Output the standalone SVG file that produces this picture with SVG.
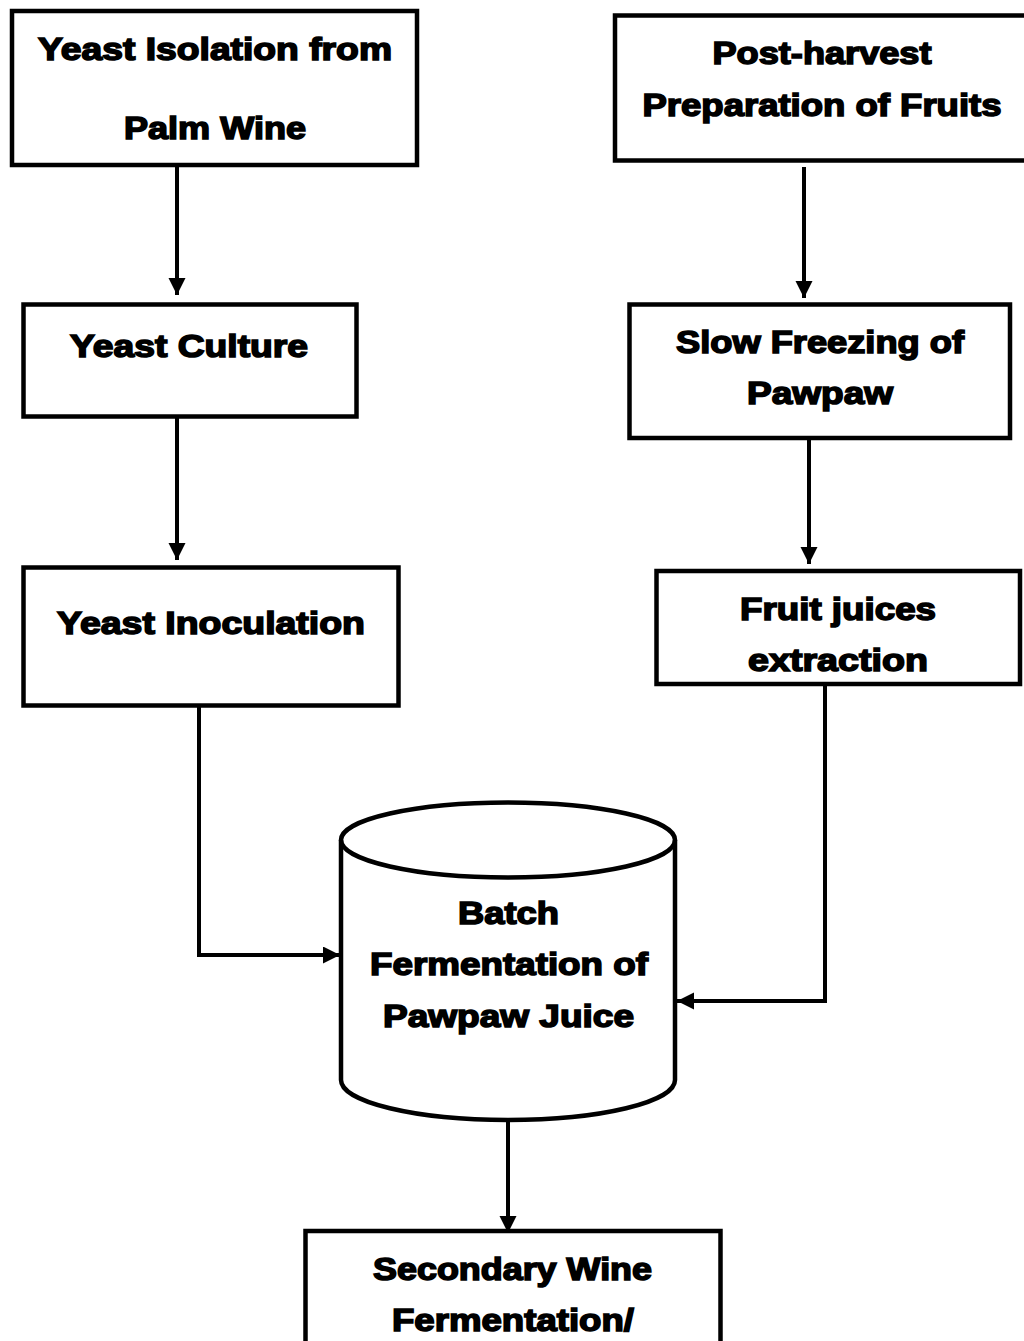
<svg xmlns="http://www.w3.org/2000/svg" width="1024" height="1341" viewBox="0 0 1024 1341">
<style>
.box{fill:#fff;stroke:#000;stroke-width:4.5}
.lbl{font-family:"Liberation Sans",Arial,sans-serif;font-weight:bold;font-size:32px;fill:#000;stroke:#000;stroke-width:1.6;text-anchor:middle}
.con{fill:none;stroke:#000;stroke-width:4}
</style>
<defs>
<marker id="ah" markerUnits="userSpaceOnUse" markerWidth="18" markerHeight="18" refX="17" refY="8.5" orient="auto">
<path d="M0,0 L17,8.5 L0,17 z" fill="#000"/>
</marker>
</defs>
<rect width="1024" height="1341" fill="#fff"/>
<g id="connectors">
<line class="con" x1="177" y1="167" x2="177" y2="295" marker-end="url(#ah)"/>
<line class="con" x1="177" y1="418" x2="177" y2="560" marker-end="url(#ah)"/>
<line class="con" x1="804" y1="167" x2="804" y2="298" marker-end="url(#ah)"/>
<line class="con" x1="809" y1="438" x2="809" y2="564" marker-end="url(#ah)"/>
<polyline class="con" points="199,707 199,955 340,955" marker-end="url(#ah)"/>
<polyline class="con" points="825,686 825,1001 677,1001" marker-end="url(#ah)"/>
<line class="con" x1="508" y1="1120" x2="508" y2="1233" marker-end="url(#ah)"/>
</g>
<g id="n1">
<rect class="box" x="12" y="11" width="405" height="154"/>
<text class="lbl" x="215" y="59.5" textLength="354" lengthAdjust="spacingAndGlyphs">Yeast Isolation from</text>
<text class="lbl" x="215" y="139" textLength="182" lengthAdjust="spacingAndGlyphs">Palm Wine</text>
</g>
<g id="n2">
<rect class="box" x="615" y="15.5" width="420" height="145"/>
<text class="lbl" x="822" y="63.5" textLength="219" lengthAdjust="spacingAndGlyphs">Post-harvest</text>
<text class="lbl" x="822" y="115.5" textLength="359" lengthAdjust="spacingAndGlyphs">Preparation of Fruits</text>
</g>
<g id="n3">
<rect class="box" x="23.5" y="304.5" width="333" height="112"/>
<text class="lbl" x="189" y="356.5" textLength="238" lengthAdjust="spacingAndGlyphs">Yeast Culture</text>
</g>
<g id="n4">
<rect class="box" x="629.5" y="304.5" width="380.5" height="133.5"/>
<text class="lbl" x="820" y="352.5" textLength="288" lengthAdjust="spacingAndGlyphs">Slow Freezing of</text>
<text class="lbl" x="820" y="404" textLength="146" lengthAdjust="spacingAndGlyphs">Pawpaw</text>
</g>
<g id="n5">
<rect class="box" x="23.5" y="567.5" width="375" height="138"/>
<text class="lbl" x="211" y="633.5" textLength="308" lengthAdjust="spacingAndGlyphs">Yeast Inoculation</text>
</g>
<g id="n6">
<rect class="box" x="656.5" y="571" width="363.5" height="113"/>
<text class="lbl" x="838" y="619.5" textLength="196" lengthAdjust="spacingAndGlyphs">Fruit juices</text>
<text class="lbl" x="838" y="671" textLength="180" lengthAdjust="spacingAndGlyphs">extraction</text>
</g>
<g id="n7">
<path class="box" d="M341,840 L341,1080 A167,40 0 0 0 675,1080 L675,840 A167,37.5 0 0 0 341,840 Z"/>
<path class="box" style="fill:none" d="M341,840 A167,37.5 0 0 0 675,840"/>
<text class="lbl" x="508.5" y="923.5" textLength="101" lengthAdjust="spacingAndGlyphs">Batch</text>
<text class="lbl" x="509" y="975" textLength="278" lengthAdjust="spacingAndGlyphs">Fermentation of</text>
<text class="lbl" x="508.5" y="1027" textLength="251" lengthAdjust="spacingAndGlyphs">Pawpaw Juice</text>
</g>
<g id="n8">
<rect class="box" x="305.5" y="1231" width="415" height="200"/>
<text class="lbl" x="512.5" y="1279.5" textLength="279" lengthAdjust="spacingAndGlyphs">Secondary Wine</text>
<text class="lbl" x="513" y="1331" textLength="242" lengthAdjust="spacingAndGlyphs">Fermentation/</text>
</g>
</svg>
